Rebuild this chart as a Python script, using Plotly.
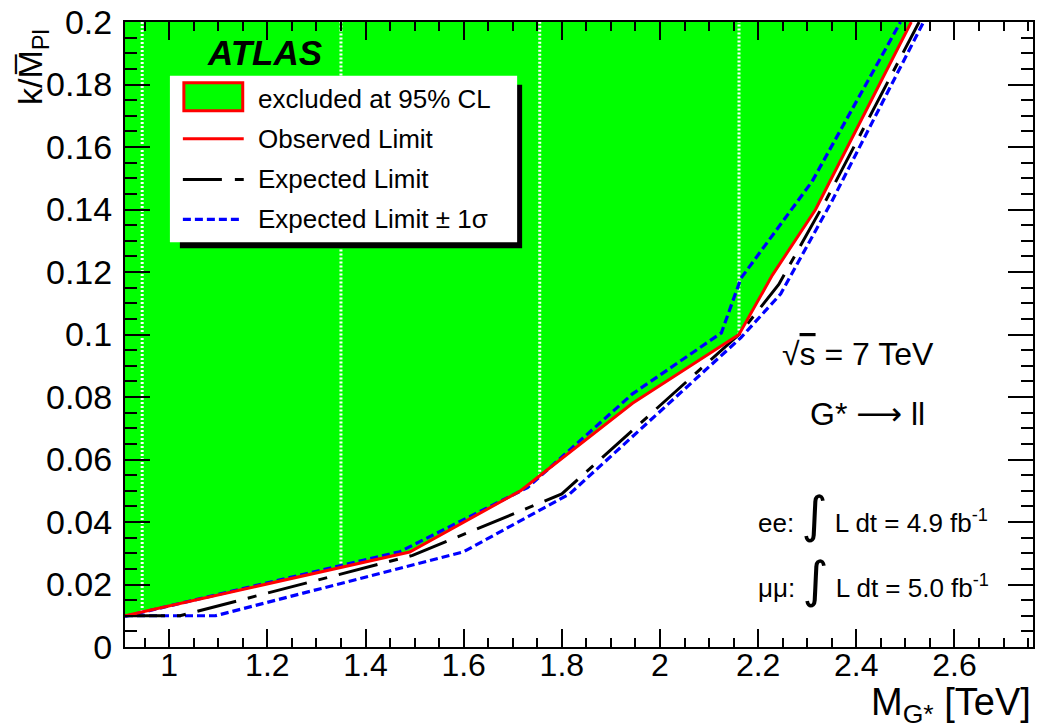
import numpy as np
import plotly.graph_objects as go

# Axis ranges and tick labels
x_range = [0.91, 2.76]
y_range = [0.0, 0.2]
x_tickvals = [1.0, 1.2, 1.4, 1.6, 1.8, 2.0, 2.2, 2.4, 2.6]
x_ticktext = ["1", "1.2", "1.4", "1.6", "1.8", "2", "2.2", "2.4", "2.6"]
y_tickvals = [0.0, 0.02, 0.04, 0.06, 0.08, 0.10, 0.12, 0.14, 0.16, 0.18, 0.20]
y_ticktext = ["0", "0.02", "0.04", "0.06", "0.08", "0.1", "0.12", "0.14", "0.16", "0.18", "0.2"]

# Observed 95% CL limit on k/M_Pl vs graviton mass [TeV]
obs_mass = [0.91, 1.490, 1.716, 1.944, 2.161, 2.229, 2.317, 2.512]
obs_k = [0.0100, 0.0304, 0.0500, 0.0780, 0.1000, 0.1190, 0.1400, 0.2000]

# Expected limit
exp_mass = [0.91, 1.022, 1.496, 1.800, 2.161, 2.242, 2.340, 2.528]
exp_k = [0.0100, 0.0100, 0.0293, 0.0490, 0.1000, 0.1160, 0.1435, 0.2000]

# Expected limit -1 sigma
exp_lo_mass = [0.91, 1.094, 1.599, 1.816, 2.165, 2.246, 2.350, 2.537]
exp_lo_k = [0.0100, 0.0100, 0.0304, 0.0490, 0.0990, 0.1130, 0.1426, 0.2000]

# Expected limit +1 sigma
exp_hi_mass = [0.91, 1.470, 1.730, 1.944, 2.125, 2.165, 2.310, 2.490]
exp_hi_k = [0.0098, 0.0305, 0.0510, 0.0810, 0.1005, 0.1180, 0.1490, 0.2000]

# Fill segment boundaries visible as light seams in the excluded region
seam_mass = [0.945, 1.350, 1.755, 2.161]

FONT = "Liberation Sans, Arial, Helvetica, sans-serif"
GREEN = "#00ff00"

fig = go.Figure()

# Excluded region: everything above the observed limit
fill_x = list(obs_mass) + [x_range[0]]
fill_y = list(obs_k) + [y_range[1]]
fig.add_trace(go.Scatter(
    x=fill_x, y=fill_y, mode="lines", fill="toself",
    fillcolor=GREEN, line=dict(width=0, color=GREEN),
    hoverinfo="skip", showlegend=False,
))

# Light seams inside the filled region
for xm in seam_mass:
    yb = float(np.interp(xm, obs_mass, obs_k))
    fig.add_trace(go.Scatter(
        x=[xm, xm], y=[yb, y_range[1]], mode="lines",
        line=dict(color="white", width=3, dash="2px,2px"),
        hoverinfo="skip", showlegend=False,
    ))

BLUE_DASH = "8px,4px"
BLACK_DASH = "40px,12px,9px,12px"

fig.add_trace(go.Scatter(
    x=exp_lo_mass, y=exp_lo_k, mode="lines",
    line=dict(color="#0000ff", width=3.2, dash=BLUE_DASH),
    showlegend=False,
))
fig.add_trace(go.Scatter(
    x=exp_hi_mass, y=exp_hi_k, mode="lines",
    line=dict(color="#0000ff", width=3.2, dash=BLUE_DASH),
    showlegend=False,
))
fig.add_trace(go.Scatter(
    x=exp_mass, y=exp_k, mode="lines",
    line=dict(color="black", width=3, dash=BLACK_DASH),
    showlegend=False,
))
fig.add_trace(go.Scatter(
    x=obs_mass, y=obs_k, mode="lines",
    line=dict(color="#ff0000", width=3),
    showlegend=False,
))

# Plot-area geometry in pixels (for placing the legend box and labels)
W, H = 1038, 728
L, R, T, B = 125, 3, 20, 81
PW, PH = W - L - R, H - T - B


def px(xp):
    return (xp - L) / PW


def py(yp):
    return (H - B - yp) / PH


shapes = []
# Legend shadow and box
shapes.append(dict(type="rect", xref="paper", yref="paper",
                   x0=px(180), x1=px(523), y0=py(247), y1=py(83),
                   fillcolor="black", line=dict(width=0), layer="above"))
shapes.append(dict(type="rect", xref="paper", yref="paper",
                   x0=px(170), x1=px(518), y0=py(241), y1=py(74),
                   fillcolor="white", line=dict(width=0), layer="above"))
# Legend samples
shapes.append(dict(type="rect", xref="paper", yref="paper",
                   x0=px(184), x1=px(243), y0=py(109), y1=py(81),
                   fillcolor=GREEN, line=dict(color="#ff0000", width=3), layer="above"))
shapes.append(dict(type="line", xref="paper", yref="paper",
                   x0=px(183), x1=px(244), y0=py(137), y1=py(137),
                   line=dict(color="#ff0000", width=3), layer="above"))
shapes.append(dict(type="line", xref="paper", yref="paper",
                   x0=px(183), x1=px(244), y0=py(178), y1=py(178),
                   line=dict(color="black", width=3, dash="39px,13px,9px,13px"), layer="above"))
shapes.append(dict(type="line", xref="paper", yref="paper",
                   x0=px(183), x1=px(240), y0=py(218), y1=py(218),
                   line=dict(color="#0000ff", width=3.2, dash=BLUE_DASH), layer="above"))

annotations = []
legend_rows = [
    ("excluded at 95% CL", 97),
    ("Observed Limit", 137),
    ("Expected Limit", 178),
    ("Expected Limit ± 1σ", 218),
]
for txt, yp in legend_rows:
    annotations.append(dict(
        text=txt, xref="paper", yref="paper", x=px(256), y=py(yp),
        xanchor="left", yanchor="middle", showarrow=False,
        font=dict(family=FONT, size=26, color="black"),
    ))

annotations.append(dict(
    text="<b><i>ATLAS</i></b>", xref="paper", yref="paper",
    x=px(205), y=py(51), xanchor="left", yanchor="middle", showarrow=False,
    font=dict(family=FONT, size=35, color="black"),
))
annotations.append(dict(
    text="√<span style='text-decoration:overline'>s</span> = 7 TeV",
    xref="paper", yref="paper", x=px(860), y=py(353),
    xanchor="center", yanchor="middle", showarrow=False,
    font=dict(family=FONT, size=32, color="black"),
))
annotations.append(dict(
    text="G* <span style='font-family:DejaVu Sans'>⟶</span> ll",
    xref="paper", yref="paper", x=px(869), y=py(413),
    xanchor="center", yanchor="middle", showarrow=False,
    font=dict(family=FONT, size=32, color="black"),
))
INTEGRAL = "<span style='font-family:DejaVu Sans;font-size:50px'>∫</span>"
annotations.append(dict(
    text="ee: " + INTEGRAL + " L dt = 4.9 fb<sup>-1</sup>",
    xref="paper", yref="paper", x=px(757), y=py(515),
    xanchor="left", yanchor="middle", showarrow=False,
    font=dict(family=FONT, size=26, color="black"),
))
annotations.append(dict(
    text="μμ: " + INTEGRAL + " L dt = 5.0 fb<sup>-1</sup>",
    xref="paper", yref="paper", x=px(757), y=py(580),
    xanchor="left", yanchor="middle", showarrow=False,
    font=dict(family=FONT, size=26, color="black"),
))
# Axis titles
annotations.append(dict(
    text="M<sub>G*</sub> [TeV]", xref="paper", yref="paper",
    x=1.0, y=py(705), xanchor="right", yanchor="middle", showarrow=False,
    font=dict(family=FONT, size=38, color="black"),
))
annotations.append(dict(
    text="k/M\u0305<sub>Pl</sub>", xref="paper", yref="paper",
    x=px(33), y=py(65), xanchor="center", yanchor="middle", showarrow=False,
    textangle=-90, font=dict(family=FONT, size=34, color="black"),
))

axis_common = dict(
    showgrid=False, zeroline=False, showline=True, linecolor="black",
    linewidth=2, mirror="ticks", ticks="inside", tickcolor="black",
    tickwidth=2, tickmode="array",
)

fig.update_layout(
    width=W, height=H,
    margin=dict(l=L, r=R, t=T, b=B),
    paper_bgcolor="white", plot_bgcolor="white",
    showlegend=False,
    xaxis=dict(range=x_range, tickvals=x_tickvals, ticktext=x_ticktext,
               ticklen=18, ticklabelstandoff=-11,
               tickfont=dict(family=FONT, size=32, color="black"),
               minor=dict(dtick=0.05, tick0=0.0, ticklen=9, tickwidth=2,
                          tickcolor="black", ticks="inside", showgrid=False),
               **axis_common),
    yaxis=dict(range=y_range, tickvals=y_tickvals, ticktext=y_ticktext,
               ticklen=25, ticklabelstandoff=4,
               tickfont=dict(family=FONT, size=34, color="black"),
               minor=dict(dtick=0.005, tick0=0.0, ticklen=12, tickwidth=2,
                          tickcolor="black", ticks="inside", showgrid=False),
               **axis_common),
    shapes=shapes,
    annotations=annotations,
)

fig.write_html("out.html")
